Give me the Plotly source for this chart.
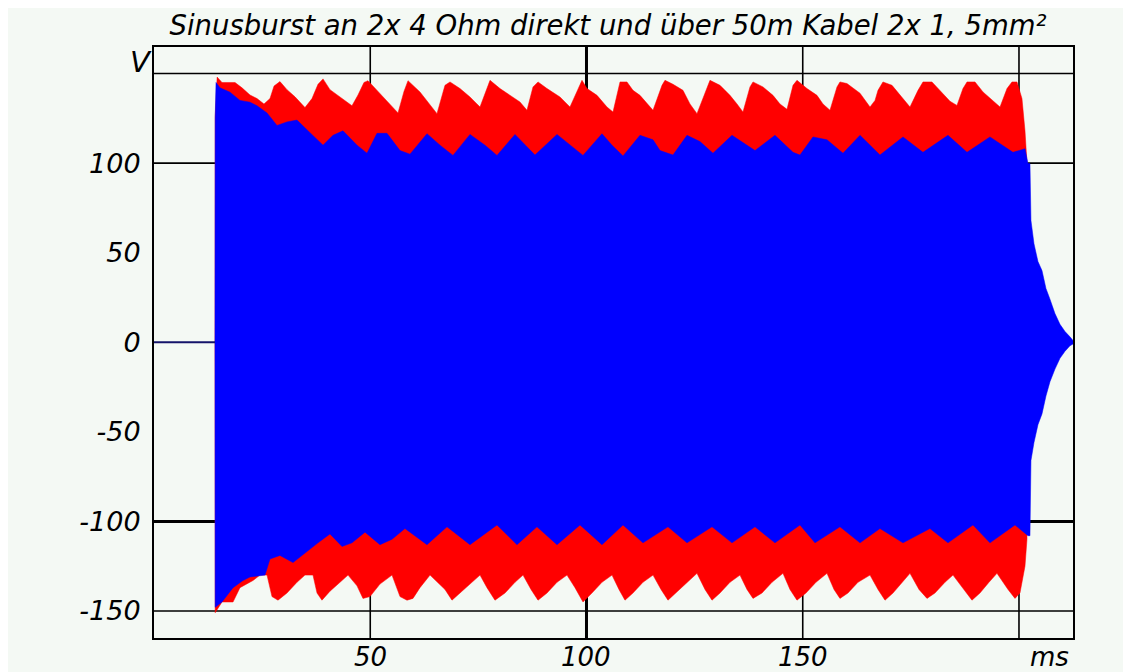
import plotly.graph_objects as go

# ---------------- data ----------------
# time in ms, voltage in V
baseline = [(0.0, 0.0), (14.1, 0.0)]

red_top = [
    (14.10, 0), (14.15, 126), (14.60, 148), (15.72, 145), (18.73, 145), (20.35, 142),
    (22.20, 138), (23.82, 136), (25.43, 133), (26.82, 136), (27.75, 143), (29.13, 145.5),
    (30.75, 141), (32.60, 137), (34.91, 131), (36.53, 136), (37.92, 144), (39.08, 147),
    (40.69, 141), (43.01, 137), (45.78, 132), (47.17, 138), (48.55, 145), (49.48, 146),
    (51.79, 140), (54.10, 134), (56.42, 128), (57.80, 140), (58.73, 146), (61.50, 139.7),
    (65.43, 127.6), (67.28, 143.4), (68.44, 145.3), (70.75, 141.6), (73.06, 136.9),
    (75.38, 131.3), (77.69, 146.2), (80.00, 141.6), (82.31, 137.8), (84.62, 134.1),
    (86.24, 129.5), (87.63, 142.5), (88.79, 145.3), (90.87, 141.6), (93.87, 136.9),
    (96.18, 131.3), (97.80, 140), (98.96, 146.2), (100.12, 141.6), (102.43, 137.8),
    (104.74, 131.3), (106.13, 128.5), (107.75, 145.3), (109.36, 145.3), (110.75, 140.6),
    (112.37, 137.8), (115.38, 129.5), (117.46, 143.4), (118.15, 146.2), (120.00, 144),
    (122.31, 140.6), (123.93, 133), (125.55, 127.6), (127.86, 142.5), (128.55, 146.2),
    (130.87, 143.4), (133.18, 137.8), (134.80, 133), (136.18, 128.5), (137.80, 142.5),
    (138.50, 145.3), (140.81, 142.5), (143.12, 137.8), (144.74, 133), (146.36, 130),
    (147.75, 143.4), (148.67, 146.2), (150.98, 141.6), (153.29, 137.8), (154.68, 133),
    (156.30, 129.5), (157.92, 142.5), (158.61, 145.3), (160.23, 144.4), (162.54, 140.6),
    (163.24, 139), (165.55, 131.3), (166.71, 135), (167.40, 140.6), (168.55, 145.3),
    (170.64, 143.4), (172.49, 137.8), (174.80, 131.3), (176.65, 140.6), (177.80, 145.3),
    (179.88, 145.3), (181.73, 140.6), (184.05, 134.5), (185.66, 132.2), (187.05, 141.6),
    (187.98, 145.3), (189.83, 145.3), (191.68, 139.7), (193.99, 135), (195.61, 131.3),
    (197.23, 141.6), (198.38, 145.3), (199.54, 145.3), (200.69, 136), (201.39, 118),
    (201.85, 100),
]

red_bottom = [
    (14.10, 0), (14.15, -151), (15.72, -145), (18.27, -145), (19.88, -137), (22.89, -133),
    (24.51, -130), (26.13, -130), (27.28, -142), (28.67, -144), (30.75, -140), (33.06, -134),
    (34.91, -130), (36.76, -130), (37.69, -140), (38.84, -144), (40.69, -139), (43.01, -134),
    (44.86, -130), (46.94, -136), (48.32, -143), (49.94, -142), (52.25, -135), (55.03, -130),
    (56.88, -142), (58.50, -144), (59.88, -143), (61.50, -137), (63.82, -130), (67.28, -138),
    (68.90, -144), (70.75, -140), (73.06, -135), (75.38, -130), (76.99, -137), (78.84, -144),
    (81.16, -140), (83.47, -134), (85.32, -130), (87.17, -138), (88.79, -144), (90.87, -140),
    (93.18, -134), (95.49, -130), (97.34, -137), (99.19, -145), (101.27, -140), (103.58, -134),
    (105.90, -130), (107.51, -138), (108.90, -144), (110.75, -140), (113.06, -134),
    (115.38, -130), (117.23, -138), (118.84, -144), (120.69, -140), (123.24, -134),
    (125.55, -129), (127.40, -138), (129.02, -144), (130.87, -140), (133.18, -134),
    (135.49, -130), (137.11, -138), (138.50, -143), (140.58, -140), (142.89, -134),
    (145.43, -129), (147.05, -138), (148.67, -144), (150.75, -140), (153.06, -134),
    (155.61, -129), (157.23, -138), (158.61, -143), (160.46, -140), (162.77, -134),
    (165.55, -130), (167.40, -138), (169.02, -144), (170.87, -140), (172.95, -134),
    (174.80, -129), (176.88, -138), (178.73, -143), (180.58, -140), (182.89, -134),
    (184.74, -130), (187.28, -138), (189.13, -144), (190.98, -140), (193.06, -134),
    (194.91, -129), (197.46, -138), (199.08, -143), (200.23, -140), (201.39, -125),
    (201.85, -110),
]

blue_top = [
    (14.10, 0), (14.15, 125), (14.34, 145), (15.26, 142), (17.57, 139.6), (19.88, 135),
    (22.20, 134), (23.82, 132), (26.13, 128), (28.44, 121), (30.75, 123), (33.06, 124),
    (36.07, 117), (39.08, 110), (41.39, 115.5), (43.70, 118), (46.94, 110), (49.25, 105.5),
    (51.56, 116.6), (53.87, 116.6), (56.88, 107), (59.19, 105), (63.12, 116.4), (66.13, 110),
    (69.13, 104.3), (73.06, 116), (76.53, 110), (79.31, 104.3), (83.47, 116), (85.78, 110),
    (88.09, 104.5), (93.18, 116), (96.18, 110), (99.19, 104.3), (103.58, 116.4),
    (105.90, 110), (108.44, 104), (112.37, 115.5), (115.38, 113), (117.00, 107),
    (120.00, 104.5), (123.24, 115.5), (126.24, 112), (129.25, 105.5), (133.64, 115.5),
    (137.80, 109), (138.96, 107), (143.58, 115.5), (147.75, 106), (149.36, 104.5),
    (152.37, 114.6), (155.61, 113), (159.31, 105.5), (163.24, 115.5), (167.86, 104.5),
    (173.18, 114.6), (177.80, 106), (183.58, 115.5), (187.98, 106), (193.29, 114.6),
    (198.61, 106), (201.39, 108), (202.08, 99.7), (202.54, 99.7), (202.77, 68),
    (203.47, 55), (204.39, 45), (205.32, 40), (206.24, 30), (207.17, 24), (208.32, 16),
    (209.48, 10), (210.64, 6), (211.79, 3), (212.49, 1),
]

blue_bottom = [
    (14.10, 0), (14.15, -148), (15.72, -145), (18.27, -137), (20.58, -133), (22.20, -131),
    (25.66, -130), (26.82, -121), (29.13, -119), (32.14, -123), (34.91, -118), (37.92, -112),
    (40.69, -107), (43.47, -114), (45.78, -112), (48.79, -106), (52.25, -113), (55.03, -110),
    (58.03, -104), (63.12, -113), (67.75, -103), (73.06, -113), (79.31, -102), (83.93, -113),
    (88.55, -103), (93.18, -113), (98.50, -102), (103.58, -113), (108.44, -102),
    (113.06, -112), (118.84, -103), (123.24, -112), (129.02, -103), (133.64, -112),
    (138.96, -103), (143.58, -112), (149.36, -102), (152.83, -112), (158.61, -103),
    (163.24, -112), (167.86, -104), (173.18, -112), (179.42, -104), (183.58, -112),
    (189.36, -102), (193.29, -112), (199.08, -102), (202.08, -108), (202.54, -108),
    (202.77, -66), (203.47, -56), (204.39, -46), (205.32, -40), (206.24, -30),
    (207.17, -22), (208.32, -15), (209.48, -9), (210.64, -5), (211.79, -2), (212.49, -1),
]

x_ticks = [50, 100, 150]
x_tick_labels = ["50", "100", "150"]
y_ticks = [100, 50, 0, -50, -100, -150]
y_tick_labels = ["100", "50", "0", "-50", "-100", "-150"]
x_grid = [50, 100, 150, 200]
y_grid = [150, 100, -100, -150]
heavy_x = 100
heavy_y = -100

title_text = "Sinusburst an 2x 4 Ohm direkt und über 50m Kabel 2x 1, 5mm²"

# ---------------- figure ----------------
W, H = 1131, 672
OFF = 8  # page body margin of the browser
ML, MT = 154 - OFF, 47 - OFF
MR, MB = W - (1073 - OFF), H - (638 - OFF)
PW, PH = W - ML - MR, H - MT - MB
BG = "#F4F9F4"


def px_to_paper(px, py):
    """page pixel -> paper coordinates"""
    return (px - OFF - ML) / PW, (H - MB - (py - OFF)) / PH


def band(top, bottom):
    xs = [p[0] for p in top] + [p[0] for p in reversed(bottom)]
    ys = [p[1] for p in top] + [p[1] for p in reversed(bottom)]
    return xs, ys


fig = go.Figure()

rx, ry = band(red_top, red_bottom)
fig.add_trace(go.Scatter(x=rx, y=ry, mode="lines", fill="toself",
                         fillcolor="#FF0000", line=dict(color="#FF0000", width=0.5),
                         hoverinfo="skip", showlegend=False))

bx, by = band(blue_top, blue_bottom)
fig.add_trace(go.Scatter(x=bx, y=by, mode="lines", fill="toself",
                         fillcolor="#0000FF", line=dict(color="#0000FF", width=0.5),
                         hoverinfo="skip", showlegend=False))

fig.add_trace(go.Scatter(x=[p[0] for p in baseline], y=[p[1] for p in baseline],
                         mode="lines", line=dict(color="#14146A", width=2),
                         hoverinfo="skip", showlegend=False))

shapes = []
for gx in x_grid:
    shapes.append(dict(type="line", xref="x", yref="paper", layer="below",
                       x0=gx, x1=gx, y0=0, y1=1,
                       line=dict(color="black", width=3 if gx == heavy_x else 1.6)))
for gy in y_grid:
    shapes.append(dict(type="line", xref="paper", yref="y", layer="below",
                       x0=0, x1=1, y0=gy, y1=gy,
                       line=dict(color="black", width=3 if gy == heavy_y else 1.6)))

label_font = dict(family="DejaVu Sans", size=27, color="black", style="italic")
xlabel_font = dict(family="DejaVu Sans", size=26, color="black", style="italic")

vx, vy = px_to_paper(141, 62)
mx, my = px_to_paper(1049, 657)
_, xl_y = px_to_paper(0, 657)

annotations = [
    dict(text="V", xref="paper", yref="paper", x=vx, y=vy,
         xanchor="center", yanchor="middle", showarrow=False,
         font=dict(family="DejaVu Sans", size=29, color="black", style="italic")),
    dict(text="ms", xref="paper", yref="paper", x=mx, y=my,
         xanchor="center", yanchor="middle", showarrow=False, font=xlabel_font),
]
for tv, tl in zip(x_ticks, x_tick_labels):
    annotations.append(dict(text=tl, xref="x", yref="paper", x=tv, y=xl_y,
                            xanchor="center", yanchor="middle", showarrow=False,
                            font=xlabel_font))

fig.update_layout(
    width=W, height=H,
    margin=dict(l=ML, r=MR, t=MT, b=MB, pad=0, autoexpand=False),
    paper_bgcolor=BG,
    plot_bgcolor=BG,
    shapes=shapes,
    showlegend=False,
    title=dict(text=title_text, x=(608 - OFF) / W, xanchor="center",
               y=1 - (25 - OFF) / H, yanchor="middle",
               font=dict(family="DejaVu Sans", size=27.5, color="black", style="italic")),
    annotations=annotations,
)

fig.update_xaxes(range=[0, 212.49], tickvals=x_ticks, ticktext=x_tick_labels,
                 showticklabels=False,
                 showgrid=False, zeroline=False, ticks="",
                 showline=True, mirror=True, linecolor="black", linewidth=2,
                 automargin=False)
fig.update_yaxes(range=[-165.1, 164.8], tickvals=y_ticks, ticktext=y_tick_labels,
                 showgrid=False, zeroline=False, ticks="", tickfont=label_font,
                 showline=True, mirror=True, linecolor="black", linewidth=2,
                 ticklabelstandoff=6, automargin=False)

fig.write_html("out.html")
